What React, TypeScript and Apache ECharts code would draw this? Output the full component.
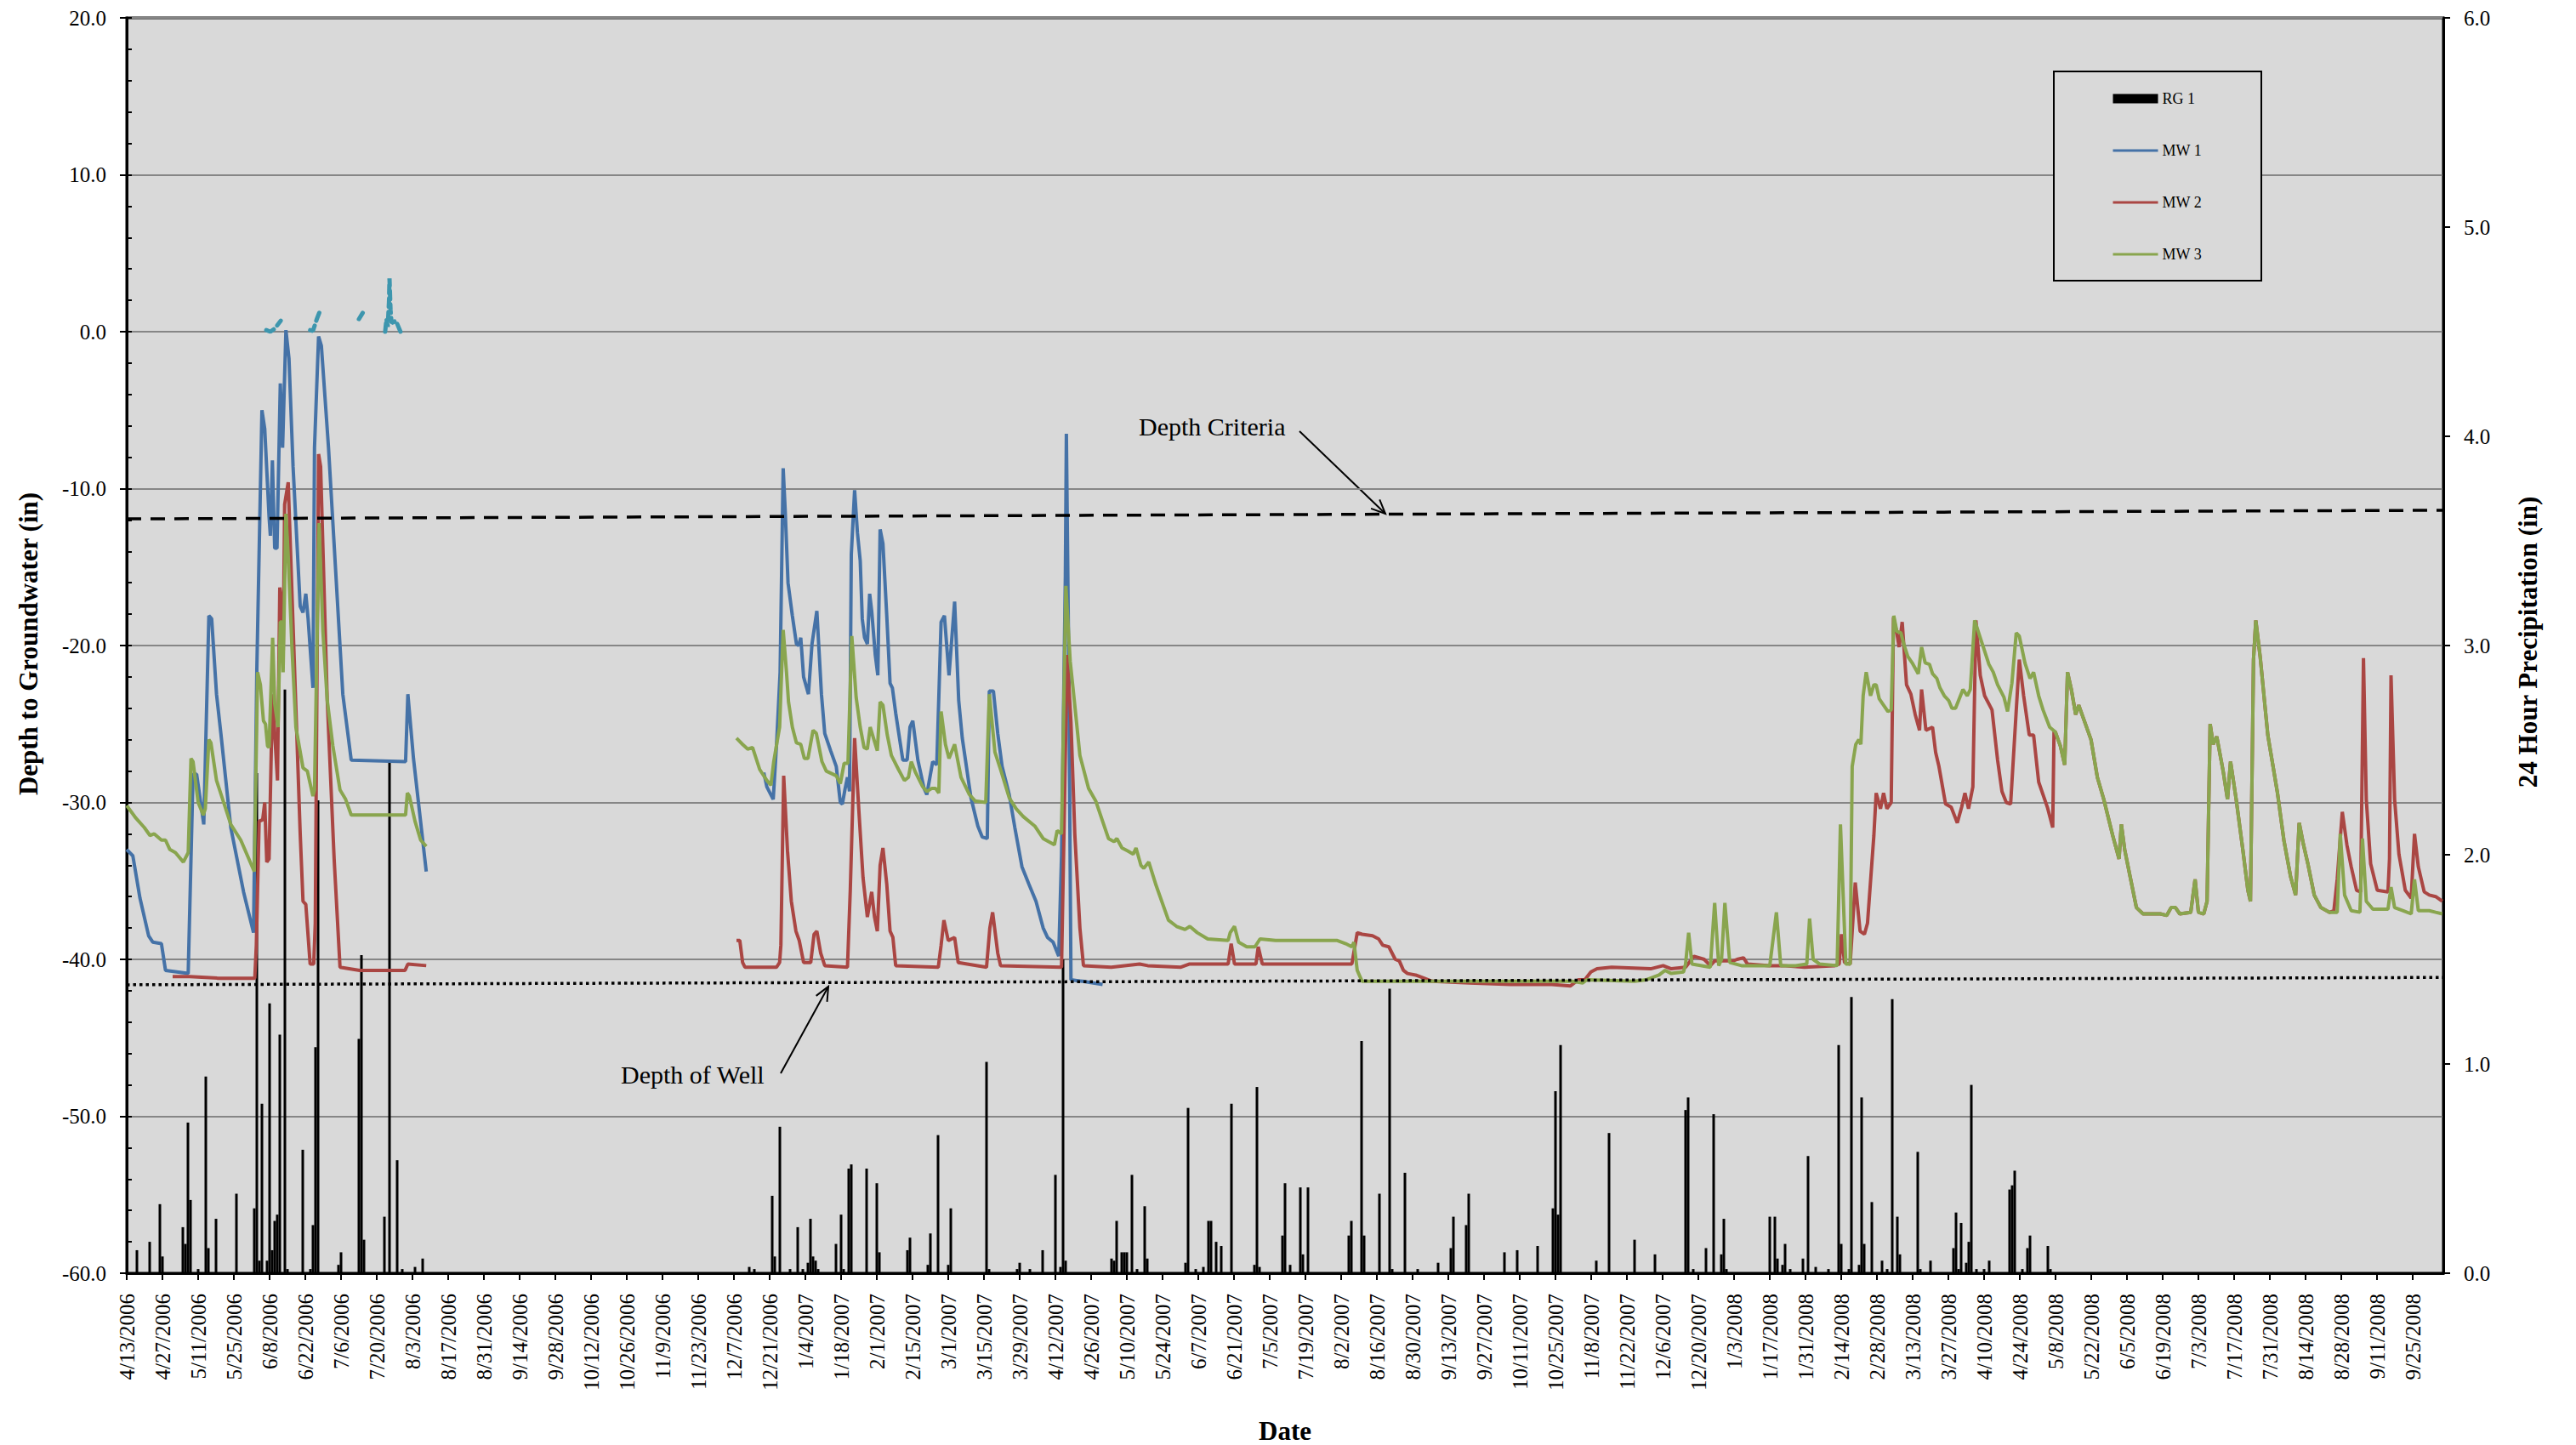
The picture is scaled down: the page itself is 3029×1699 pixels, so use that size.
import React, { useEffect, useRef } from "react";
import * as echarts from "echarts";

// x values are days since 4/13/2006
const START_UTC = Date.UTC(2006, 3, 13);
const X_MAX_DAY = 908;
const TICK_STEP_DAYS = 14;
const TICK_COUNT = 65;

const LEFT_MIN = -60, LEFT_MAX = 20, LEFT_STEP = 10, LEFT_MINOR_STEP = 2;
const RIGHT_MIN = 0, RIGHT_MAX = 6, RIGHT_STEP = 1;

// Reference lines (left axis, inches)
const DEPTH_CRITERIA = [[0, -11.93], [908, -11.38]];
const DEPTH_OF_WELL = [[0, -41.62], [908, -41.15]];

// RG 1: 24 hour precipitation (right axis)
const RG1 = [
  [4,0.11],[9,0.15],[13,0.33],[14,0.08],[22,0.22],[23,0.14],[24,0.72],[25,0.35],[28,0.02],[31,0.94],[32,0.12],[35,0.26],[43,0.38],[50,0.31],[51,2.39],[52,0.06],[53,0.81],[55,0.06],[56,1.29],[57,0.11],[58,0.25],[59,0.28],[60,1.14],[62,2.79],[63,0.02],[69,0.59],[72,0.02],[73,0.23],[74,1.08],[75,2.26],[83,0.04],[84,0.10],[91,1.12],[92,1.52],[93,0.16],[101,0.27],[103,2.45],[106,0.54],[108,0.02],[113,0.03],[116,0.07],
  [244,0.03],[246,0.02],[253,0.37],[254,0.08],[256,0.70],[260,0.02],[263,0.22],[265,0.02],[267,0.05],[268,0.26],[269,0.08],[270,0.06],[271,0.02],[278,0.14],[280,0.28],[281,0.02],[283,0.50],[284,0.52],[290,0.50],[294,0.43],[295,0.10],[306,0.11],[307,0.17],[314,0.04],[315,0.19],[318,0.66],[322,0.04],[323,0.31],[337,1.01],[338,0.02],[349,0.02],[350,0.05],[354,0.02],[359,0.11],[364,0.47],[366,0.03],[367,1.5],[368,0.06],[386,0.07],[387,0.06],[388,0.25],[390,0.10],[391,0.10],[392,0.10],[394,0.47],[396,0.02],[399,0.32],[400,0.07],
  [415,0.05],[416,0.79],[419,0.02],[422,0.03],[424,0.25],[425,0.25],[427,0.15],[429,0.13],[433,0.81],[442,0.04],[443,0.89],[444,0.03],[453,0.18],[454,0.43],[456,0.04],[460,0.41],[461,0.09],[463,0.41],[479,0.18],[480,0.25],[484,1.11],[485,0.18],[491,0.38],[495,1.36],[496,0.02],[501,0.48],[506,0.02],[514,0.05],[519,0.12],[520,0.27],[525,0.23],[526,0.38],[540,0.10],[545,0.11],[553,0.13],[559,0.31],[560,0.87],[561,0.28],[562,1.09],[576,0.06],[581,0.67],[591,0.16],[599,0.09],[611,0.78],[612,0.84],[614,0.02],[619,0.12],[622,0.76],[625,0.09],[626,0.26],[627,0.02],
  [644,0.27],[646,0.27],[647,0.07],[649,0.04],[650,0.14],[652,0.02],[657,0.07],[659,0.56],[662,0.03],[667,0.02],[671,1.09],[672,0.14],[675,0.02],[676,1.32],[679,0.04],[680,0.84],[681,0.14],[684,0.34],[688,0.06],[690,0.02],[692,1.31],[694,0.27],[695,0.09],[702,0.58],[703,0.02],[707,0.06],[716,0.12],[717,0.29],[718,0.02],[719,0.24],[721,0.05],[722,0.15],[723,0.90],[725,0.02],[728,0.02],[730,0.06],[738,0.40],[739,0.42],[740,0.49],[743,0.02],[745,0.12],[746,0.18],[753,0.13],[754,0.02]
];

// MW 1 depth to groundwater (in)
const MW1_2006 = [
  [0,-33.0],[2.4,-33.4],[5.2,-36.1],[8.6,-38.5],[10.2,-38.9],[13.6,-39.0],[15.2,-40.7],[24.1,-40.9],[26,-28.2],[27.4,-28.2],[30.2,-31.4],[32.2,-18.1],[33.3,-18.3],[35.2,-23.1],[36.9,-25.6],[40.8,-31.6],[45.8,-35.7],[49.7,-38.3],[51,-21.5],[53,-5.0],[54.1,-6.2],[55.8,-11.8],[56.3,-13.0],[57.1,-8.2],[58,-13.8],[58.9,-13.8],[60.2,-3.3],[61.1,-7.4],[62.4,0.1],[63.6,-1.7],[65.2,-8.6],[68,-17.5],[69.1,-17.9],[70.2,-16.7],[71.1,-18.3],[73,-22.7],[73.6,-7.4],[75.2,-0.3],[76.3,-0.9],[79.1,-7.4],[84.7,-23.1],[88,-27.3],[109.3,-27.4],[110.2,-23.1],[112.4,-27.2],[117.4,-34.4]
];
const MW1_2007 = [
  [249.7,-28.1],[250.9,-29.0],[253.4,-29.8],[254.7,-26.3],[256.1,-21.7],[257.3,-8.7],[258.1,-11.4],[259.2,-16.0],[260.9,-18.1],[262.5,-19.9],[263.4,-20.0],[264.2,-19.5],[265.3,-22.0],[267.2,-23.1],[268.6,-19.9],[270.5,-17.8],[272.3,-23.1],[273.6,-25.6],[275.9,-26.7],[278.1,-27.7],[279.7,-30.0],[280.5,-30.1],[281.6,-29.1],[282.5,-28.4],[283.3,-29.3],[284,-14.2],[285.3,-10.1],[286.4,-12.8],[287.5,-14.6],[288.3,-18.3],[289.2,-19.5],[290.3,-19.9],[291.2,-16.7],[292,-17.8],[293.4,-20.6],[294.4,-21.9],[295.3,-12.6],[296.4,-13.5],[297.9,-18.1],[299.2,-22.4],[300.1,-22.7],[301.4,-24.3],[304.2,-27.3],[305.9,-27.3],[307,-25.2],[308.1,-24.8],[310.1,-27.3],[312.5,-29.1],[313.6,-29.5],[315.9,-27.4],[317.5,-27.6],[319.2,-18.5],[320.5,-18.1],[322.3,-21.9],[324.5,-17.2],[326.1,-23.5],[327.5,-25.9],[330.9,-29.7],[333.6,-31.5],[335.3,-32.2],[337.3,-32.3],[338.1,-22.9],[339.7,-22.9],[341.4,-25.6],[343.1,-27.7],[345.9,-29.5],[348.1,-31.6],[350.9,-34.1],[353.6,-35.2],[356.4,-36.3],[359.2,-38.0],[360.9,-38.6],[363.1,-38.9],[365.3,-39.8],[366.4,-33.4],[367.9,-15.6],[368.3,-6.5],[369.2,-20.6],[370.1,-41.3],[374.7,-41.4],[382.5,-41.6]
];
// MW 1 readings above ground (dashed teal)
const MW1_ABOVE = [
  [54.7,0.1],[56.3,0.0],[58,0.2],[60.4,0.7],[61,"-"],
  [71.9,0.1],[73,0.05],[74.5,0.8],[75.7,1.3],[80,"-"],
  [91,0.8],[92.5,1.2],[95,"-"],
  [101.3,0.0],[101.8,0.8],[102.3,0.3],[102.8,1.9],[103.0,3.4],[103.4,1.4],[103.8,0.55],[105.5,0.7],[107.3,0.0]
];

// MW 2
const MW2_2006 = [
  [18,-41.1],[24.7,-41.1],[35.8,-41.2],[50.2,-41.2],[50.8,-39.1],[51.9,-31.2],[53.3,-31.1],[54.1,-30.0],[54.9,-33.8],[55.8,-33.6],[56.7,-26.4],[57.4,-23.1],[58,-25.6],[59.1,-28.6],[60,-16.3],[60.6,-17.1],[61.3,-21.1],[61.9,-11.0],[63.3,-9.6],[65.2,-18.7],[68,-32.0],[69.1,-36.3],[70.2,-36.5],[71.9,-40.3],[73.3,-40.3],[73.9,-37.7],[75.2,-7.8],[76,-8.6],[78.6,-23.5],[81.3,-33.6],[83.6,-40.5],[91.3,-40.7],[109.1,-40.7],[110.2,-40.3],[117.4,-40.4]
];
const MW2_2007 = [
  [239,-38.8],[240.3,-38.8],[241.4,-40.2],[242.3,-40.5],[254.7,-40.5],[255.9,-40.2],[256.4,-39.1],[257.5,-28.3],[259,-33.1],[260.5,-36.3],[262.3,-38.2],[263.6,-38.8],[265.3,-40.2],[268.1,-40.2],[269.4,-38.4],[270.5,-38.2],[272,-39.6],[273.6,-40.4],[282.5,-40.5],[283.6,-35.6],[285.3,-25.9],[287,-30.6],[288.6,-34.8],[290.3,-37.3],[292,-35.7],[293.1,-37.3],[294.2,-38.2],[295.3,-34.0],[296.4,-32.9],[297.9,-35.2],[299.2,-38.2],[300.3,-38.6],[301.4,-40.4],[318.1,-40.5],[319.2,-39.1],[320.3,-37.5],[322,-38.8],[324.5,-38.6],[325.9,-40.2],[337,-40.5],[338.3,-38.0],[339.4,-37.0],[341.4,-39.6],[342.5,-40.4],[366.4,-40.5],[367.2,-33.4],[368.6,-20.6],[370.1,-24.9],[371.6,-32.0],[373.6,-38.0],[375,-40.4],[385.9,-40.5],[397,-40.3],
  [400.2,-40.4],[413.2,-40.5],[416.4,-40.3],[431.7,-40.3],[432.9,-39.0],[434.2,-40.3],[442.6,-40.3],[443.5,-39.2],[445.1,-40.3],[480.2,-40.3],[482.3,-38.3],[484.2,-38.4],[488.3,-38.5],[490.7,-38.7],[492.3,-39.1],[494.7,-39.2],[497.2,-40.0],[498.8,-40.1],[500.4,-40.7],[502,-40.9],[505.2,-41.0],[508.5,-41.2],[511.7,-41.4],[526.2,-41.5],[542.4,-41.6],[558.5,-41.6],[565.8,-41.7],[569,-41.3],[571.5,-41.3],[573.9,-40.8],[576.3,-40.6],[582,-40.5],[597.3,-40.6],[602.2,-40.4],[605.4,-40.6],[611,-40.5],[614.3,-39.8],[618.3,-40.0],[620.7,-40.4],[622.4,-40.1],[629.6,-40.1],[631.2,-40.0],[633.7,-39.9],[635.3,-40.3],[644,-40.4],
  [649.1,-40.4],[657.6,-40.5],[669.5,-40.4],[671.2,-40.3],[672.1,-38.4],[673.3,-40.2],[675.5,-40.3],[677.5,-35.1],[679.4,-38.2],[681.1,-38.4],[682.3,-37.7],[684.8,-32.1],[685.7,-29.4],[687.4,-30.4],[688.6,-29.4],[689.9,-30.4],[691.6,-30.0],[692.5,-18.2],[693.8,-19.2],[694.7,-20.1],[695.9,-18.5],[697.6,-22.5],[699.3,-23.1],[701,-24.4],[702.7,-25.4],[703.5,-22.8],[705.2,-25.4],[707.8,-25.2],[709,-26.8],[710.3,-27.7],[712.9,-30.1],[715.1,-30.3],[717.5,-31.3],[719.2,-30.3],[720.5,-29.4],[721.9,-30.4],[723.6,-29.0],[724.8,-18.4],[726.5,-21.9],[728.2,-23.2],[731.1,-24.1],[733.3,-27.3],[735,-29.3],[736.7,-30.0],[738.4,-30.1],[741.8,-20.9],[743.5,-23.2],[745.7,-25.7],[747.4,-25.7],[749.4,-28.7],[752.8,-30.3],[754.9,-31.6],[755.4,-25.5]
];
// stretch where MW 2 and MW 3 read the same (summer 2008)
const MW23_SHARED = [
  [755.9,-25.5],[757.9,-26.4],[759.6,-27.6],[760.7,-21.7],[762.2,-22.8],[763.9,-24.4],[765.1,-23.8],[766.4,-24.4],[769.9,-26.0],[772.4,-28.4],[774.9,-29.8],[778.4,-32.1],[780.9,-33.6],[781.8,-31.4],[783.1,-33.0],[785.2,-34.7],[787.7,-36.7],[790.3,-37.1],[797.1,-37.1],[799.6,-37.2],[801.3,-36.7],[803,-36.7],[804.7,-37.1],[809,-37.0],[810.7,-34.9],[812,-37.0],[814.1,-37.1],[815.4,-36.3],[816.6,-25.0],[817.8,-26.3],[819.2,-25.8],[821.8,-28.1],[823.4,-29.8],[824.6,-27.4],[826.8,-29.8],[829.4,-33.0],[831.4,-35.6],[832.4,-36.3],[833.6,-20.9],[834.5,-18.4],[836.2,-20.7],[839.2,-25.7],[843,-29.4],[845.5,-32.4],[848.1,-34.7],[850.1,-35.9],[851.5,-31.3],[853.2,-32.7],[854.9,-33.9],[857.4,-35.9],[860,-36.7],[863.4,-37.0]
];
const MW2_2008_END = [
  [865.1,-36.9],[866.4,-34.9],[868.4,-30.6],[870.2,-32.7],[871.9,-34.1],[874,-35.6],[875.6,-35.7],[876.7,-20.8],[877.8,-29.8],[879.5,-33.9],[882.1,-35.6],[886.3,-35.7],[886.9,-33.6],[887.5,-21.9],[888.9,-29.8],[890.6,-33.3],[893.1,-35.6],[895.4,-36.1],[896.7,-32.0],[898.2,-34.1],[900.5,-35.7],[902.5,-35.9],[905,-36.0],[907.6,-36.3]
];

// MW 3
const MW3_2006 = [
  [0,-30.2],[3.6,-31.0],[6.9,-31.6],[9.1,-32.1],[10.8,-32.0],[13.6,-32.4],[15.2,-32.4],[16.9,-33.0],[19.1,-33.2],[22.2,-33.8],[24.1,-33.2],[25.2,-27.2],[26,-27.4],[28,-30.0],[30,-30.8],[30.8,-30.4],[32.2,-26.0],[33,-26.2],[35.2,-28.6],[38,-30.0],[40.8,-31.4],[44.7,-32.4],[50,-34.4],[51.3,-21.7],[52.4,-22.5],[53.6,-24.8],[54.4,-25.0],[55.2,-26.4],[55.8,-26.5],[57.2,-19.5],[58,-23.7],[59.3,-25.2],[60.2,-18.5],[60.8,-18.5],[61.3,-21.7],[62.4,-11.6],[63.3,-14.3],[64.7,-19.9],[66.3,-25.2],[69.1,-27.8],[70.8,-28.0],[73,-29.6],[73.6,-29.2],[75.4,-12.2],[76.9,-19.1],[78.6,-23.5],[80.8,-26.4],[83.6,-29.2],[85.8,-29.8],[88,-30.8],[109.3,-30.8],[110,-29.4],[110.8,-29.6],[113,-31.2],[115.2,-32.4],[117.4,-32.8]
];
const MW3_2007 = [
  [239,-25.9],[241.4,-26.3],[243.4,-26.6],[245.3,-26.5],[248.1,-27.9],[250.9,-28.6],[252.5,-28.9],[253.6,-27.4],[255.9,-25.2],[257.3,-19.0],[258.6,-21.7],[259.4,-23.6],[260.9,-25.2],[262.5,-26.2],[264.2,-26.3],[265.6,-27.2],[267,-27.2],[269,-25.4],[270.3,-25.6],[272.5,-27.4],[274.2,-28.0],[278.1,-28.3],[279.7,-28.8],[281.2,-27.5],[282.7,-27.5],[284.2,-19.4],[285.9,-23.3],[287.5,-25.2],[289,-26.5],[290.3,-26.6],[291.4,-25.2],[292.7,-25.9],[294.2,-26.7],[295.3,-23.6],[296.4,-23.8],[298.1,-25.7],[299.7,-27.0],[302.5,-27.9],[304.8,-28.6],[306.4,-28.4],[307.5,-27.4],[309.2,-28.1],[312,-29.0],[313.6,-29.3],[315.6,-29.1],[317,-29.1],[318.3,-29.4],[319.2,-24.2],[320.9,-26.3],[322.3,-27.2],[324.5,-26.3],[327,-28.4],[330.3,-29.5],[332.5,-29.9],[336.7,-30.0],[338.1,-23.1],[340.3,-26.8],[342.5,-27.9],[345.9,-29.7],[348.6,-30.4],[351.4,-30.9],[355.9,-31.5],[359.2,-32.3],[363.6,-32.7],[364.7,-31.8],[366.4,-32.0],[368.1,-16.2],[369.8,-21.0],[371.4,-23.5],[373.6,-27.0],[377,-29.1],[379.8,-29.9],[382.3,-31.1],[384.8,-32.3],[387,-32.5],[388.1,-32.3],[390.1,-32.9],[392.5,-33.1],[394.5,-33.3],[395.6,-32.9],[397.5,-34.0],
  [398.6,-34.2],[400.6,-33.8],[403.5,-35.3],[408.3,-37.5],[411.5,-37.9],[414.8,-38.1],[416.7,-37.9],[419.6,-38.3],[423.7,-38.7],[431.7,-38.8],[432.5,-38.3],[434.2,-37.9],[435.8,-38.9],[439,-39.2],[442.2,-39.2],[444.2,-38.7],[450.3,-38.8],[466.5,-38.8],[474.5,-38.8],[477.8,-39.0],[480.2,-39.2],[481,-38.9],[482.3,-40.7],[484.2,-41.4],[510.1,-41.4],[526.2,-41.4],[566.6,-41.4],[570.7,-41.5],[572.3,-41.3],[590.9,-41.4],[595.7,-41.3],[600.6,-41.0],[603,-40.7],[605.4,-40.9],[610.2,-40.8],[611,-40.3],[612.2,-38.3],[613.5,-40.3],[620.7,-40.5],[622.4,-36.4],[624,-40.4],[625.1,-40.0],[626.4,-36.4],[628.3,-40.2],[632.9,-40.4],[644,-40.4],
  [646.6,-37.0],[648.3,-40.4],[654.2,-40.4],[658.5,-40.3],[659.6,-37.4],[661,-40.0],[663.6,-40.3],[670.4,-40.4],[671.7,-31.4],[673.8,-40.3],[675.5,-40.3],[676.3,-27.7],[677.7,-26.3],[678.9,-26.0],[679.7,-26.3],[680.6,-23.2],[681.8,-21.7],[683.5,-23.2],[684.8,-22.5],[685.7,-22.5],[686.9,-23.4],[688.6,-23.8],[690.3,-24.2],[691.6,-24.1],[692.6,-18.1],[693.8,-19.1],[695.4,-19.2],[696.7,-20.0],[698.1,-20.7],[699.8,-21.1],[702.2,-21.8],[703.5,-20.1],[704.9,-21.1],[706.6,-21.2],[707.8,-21.8],[709.5,-22.1],[710.7,-22.7],[712.4,-23.2],[714.1,-23.5],[715.4,-24.0],[716.8,-24.0],[719.7,-22.8],[721.4,-23.2],[722.6,-22.8],[724.3,-18.4],[726.5,-19.5],[729.9,-21.2],[731.6,-21.7],[733.3,-22.5],[735.8,-23.3],[737.2,-24.2],[738.9,-22.4],[740.6,-19.2],[741.8,-19.4],[744,-21.1],[746,-22.1],[747.4,-21.7],[749.4,-23.2],[751.1,-24.1],[753.7,-25.2]
];
const MW3_2008_END = [
  [866.4,-37.0],[867.6,-32.0],[869.3,-35.9],[871.9,-36.9],[875.3,-37.0],[876.3,-32.3],[877.8,-36.3],[880.4,-36.8],[886.3,-36.8],[887.5,-35.4],[888.9,-36.7],[892.3,-36.9],[895.4,-37.1],[896.7,-34.9],[898.2,-36.9],[902.5,-36.9],[905,-37.0],[907.6,-37.1]
];

const C_MW1 = "#4572A7";
const C_MW2 = "#AA4643";
const C_MW3 = "#89A54E";
const C_TEAL = "#3D96AE";
const FONT = "Liberation Serif";
const LINE_W = 4;

const GRID = { left: 149, right: 156, top: 21, bottom: 202 };

function dayLabel(d: number): string {
  const dt = new Date(START_UTC + Math.round(d) * 86400000);
  return `${dt.getUTCMonth() + 1}/${dt.getUTCDate()}/${dt.getUTCFullYear()}`;
}

function arrow(x1: number, y1: number, x2: number, y2: number) {
  const a = Math.atan2(y2 - y1, x2 - x1);
  const L = 18, w = 0.42;
  const p1 = [x2 - L * Math.cos(a - w), y2 - L * Math.sin(a - w)];
  const p2 = [x2 - L * Math.cos(a + w), y2 - L * Math.sin(a + w)];
  return [
    { type: "line", shape: { x1, y1, x2, y2 }, style: { stroke: "#000", lineWidth: 2 } },
    { type: "polyline", shape: { points: [p1, [x2, y2], p2] }, style: { stroke: "#000", lineWidth: 2, fill: null } },
  ];
}

function lineSeries(name: string, data: any[], color: string, z = 3) {
  return {
    type: "line", name, data, yAxisIndex: 0, z,
    showSymbol: false, symbol: "none",
    lineStyle: { color, width: LINE_W }, itemStyle: { color },
    connectNulls: false,
  };
}

export default function App() {
  const ref = useRef<HTMLDivElement>(null);
  useEffect(() => {
    if (!ref.current) return;
    const chart = echarts.init(ref.current, undefined, { renderer: "svg" });
    const ticks = Array.from({ length: TICK_COUNT }, (_, i) => i * TICK_STEP_DAYS);
    const lineLegend = (name: string, color: string) => ({
      name,
      itemStyle: { opacity: 0 },
      lineStyle: { color, width: 3, opacity: 1 },
    });
    const option: any = {
      animation: false,
      backgroundColor: "#fff",
      grid: { ...GRID, show: true, backgroundColor: "#d9d9d9", borderColor: "#000", borderWidth: 3 },
      legend: {
        orient: "vertical", left: 2415, top: 84,
        data: [
          { name: "RG 1", icon: "rect", itemStyle: { color: "#000", opacity: 1 } },
          lineLegend("MW 1", C_MW1),
          lineLegend("MW 2", C_MW2),
          lineLegend("MW 3", C_MW3),
        ],
        padding: [23, 70, 22, 68],
        itemWidth: 53, itemHeight: 11, itemGap: 43,
        borderColor: "#000", borderWidth: 2, backgroundColor: "#d9d9d9",
        textStyle: { fontFamily: FONT, fontSize: 18, color: "#000" },
      },
      xAxis: {
        type: "value", min: 0, max: X_MAX_DAY, interval: TICK_STEP_DAYS,
        axisLine: { show: true, onZero: false, lineStyle: { color: "#000", width: 3 } },
        axisTick: { show: true, length: 8, lineStyle: { color: "#000", width: 2 }, customValues: ticks },
        axisLabel: {
          rotate: 90, margin: 24, customValues: ticks,
          fontFamily: FONT, fontSize: 25, color: "#000",
          formatter: (v: number) => (Math.round(v) % TICK_STEP_DAYS === 0 && v <= 896 ? dayLabel(v) : ""),
        },
        splitLine: { show: false },
      },
      yAxis: [
        {
          type: "value", position: "left", min: LEFT_MIN, max: LEFT_MAX, interval: LEFT_STEP,
          axisLine: { show: true, onZero: false, lineStyle: { color: "#000", width: 3 } },
          axisTick: { show: true, length: 8, lineStyle: { color: "#000", width: 2 } },
          axisLabel: { margin: 24, fontFamily: FONT, fontSize: 25, color: "#000", formatter: (v: number) => v.toFixed(1) },
          splitLine: { show: true, lineStyle: { color: "#868686", width: 2 } },
        },
        {
          type: "value", position: "right", min: RIGHT_MIN, max: RIGHT_MAX, interval: RIGHT_STEP,
          axisLine: { show: true, onZero: false, lineStyle: { color: "#000", width: 3 } },
          axisTick: { show: true, length: 8, lineStyle: { color: "#000", width: 2 } },
          axisLabel: { margin: 24, fontFamily: FONT, fontSize: 25, color: "#000", formatter: (v: number) => v.toFixed(1) },
          splitLine: { show: false },
        },
        {
          type: "value", position: "left", min: LEFT_MIN, max: LEFT_MAX, interval: LEFT_MINOR_STEP,
          axisLine: { show: false },
          axisTick: { show: true, inside: true, length: 6, lineStyle: { color: "#000", width: 2 } },
          axisLabel: { show: false },
          splitLine: { show: false },
        },
      ],
      series: [
        {
          type: "bar", name: "RG 1", yAxisIndex: 1, data: RG1, barWidth: 3, z: 2,
          itemStyle: { color: "#000" },
        },
        lineSeries("MW 1", MW1_2006, C_MW1),
        lineSeries("MW 1", MW1_2007, C_MW1),
        lineSeries("MW 2", MW2_2006, C_MW2),
        lineSeries("MW 2", [...MW2_2007, ...MW23_SHARED, ...MW2_2008_END], C_MW2),
        lineSeries("MW 3", MW3_2006, C_MW3),
        lineSeries("MW 3", [...MW3_2007, ...MW23_SHARED, ...MW3_2008_END], C_MW3),
        {
          type: "line", name: "MW 1 above ground", data: MW1_ABOVE, yAxisIndex: 0, z: 4,
          showSymbol: false, symbol: "none", connectNulls: false,
          lineStyle: { color: C_TEAL, width: 5, type: [10, 6], cap: "round" },
        },
        {
          type: "line", name: "Depth Criteria", data: DEPTH_CRITERIA, yAxisIndex: 0, z: 5,
          showSymbol: false, symbol: "none",
          lineStyle: { color: "#000", width: 3.5, type: [17, 11] },
        },
        {
          type: "line", name: "Depth of Well", data: DEPTH_OF_WELL, yAxisIndex: 0, z: 5,
          showSymbol: false, symbol: "none",
          lineStyle: { color: "#000", width: 3.5, type: [3.5, 4] },
        },
      ],
      graphic: [
        {
          type: "text", x: 33, y: 757, rotation: Math.PI / 2,
          style: { text: "Depth to Groundwater (in)", fontFamily: FONT, fontWeight: "bold", fontSize: 31, fill: "#000", align: "center", verticalAlign: "middle" },
        },
        {
          type: "text", x: 2972, y: 755, rotation: Math.PI / 2,
          style: { text: "24 Hour Precipitation (in)", fontFamily: FONT, fontWeight: "bold", fontSize: 31, fill: "#000", align: "center", verticalAlign: "middle" },
        },
        {
          type: "text", x: 1511, y: 1682,
          style: { text: "Date", fontFamily: FONT, fontWeight: "bold", fontSize: 31, fill: "#000", align: "center", verticalAlign: "middle" },
        },
        {
          type: "text", x: 1339, y: 501,
          style: { text: "Depth Criteria", fontFamily: FONT, fontSize: 30, fill: "#000", align: "left", verticalAlign: "middle" },
        },
        ...arrow(1528, 507, 1629, 604),
        {
          type: "text", x: 730, y: 1263,
          style: { text: "Depth of Well", fontFamily: FONT, fontSize: 30, fill: "#000", align: "left", verticalAlign: "middle" },
        },
        ...arrow(918, 1262, 974, 1160),
      ],
    };
    chart.setOption(option);
    return () => chart.dispose();
  }, []);
  return (
    <div
      ref={ref}
      style={{ position: "fixed", left: 0, top: 0, width: 3029, height: 1699, background: "#fff" }}
    />
  );
}
